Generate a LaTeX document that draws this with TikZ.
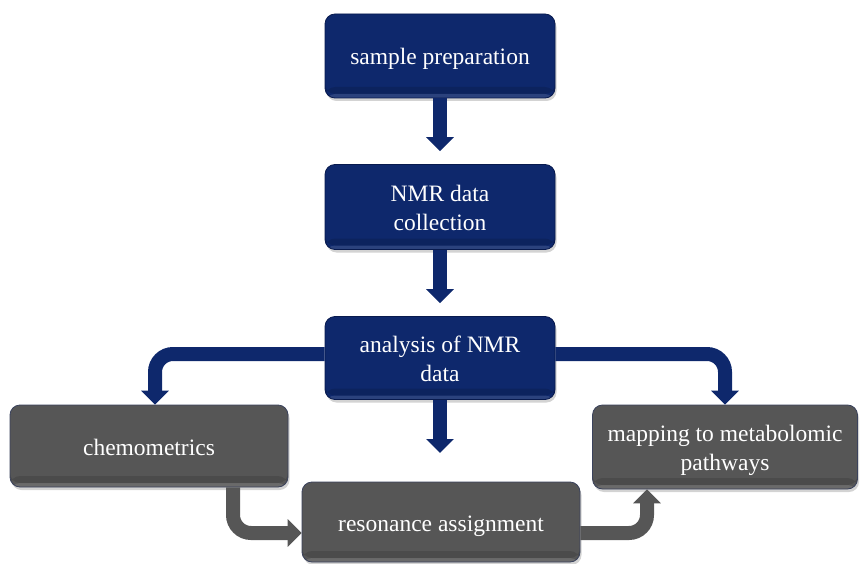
\documentclass[tikz,border=0pt]{standalone}
\usepackage{fontspec}
\setmainfont{Liberation Serif}
\usetikzlibrary{arrows.meta,shadows,calc}
\definecolor{navy}{RGB}{14,40,108}
\definecolor{navyedge}{RGB}{8,26,78}
\definecolor{slate}{RGB}{86,86,86}
\definecolor{slateedge}{RGB}{58,66,92}
\tikzset{
  box/.style={rounded corners=10pt, line width=0.8pt, text=white, align=center,
    font=\fontsize{23.5}{29}\selectfont,
    drop shadow={opacity=0.35, shadow xshift=1.5pt, shadow yshift=-3pt},
    % darker band and light rim along the lower edge
    path picture={
      \fill[black, opacity=0.12]
        ([yshift=4pt]path picture bounding box.south west) rectangle
        ([yshift=11pt]path picture bounding box.south east);
      \fill[white, opacity=0.12]
        (path picture bounding box.south west) rectangle
        ([yshift=4pt]path picture bounding box.south east);
    }},
  oneline/.style={text height=21pt, text depth=3pt},
  twoline/.style={text height=48pt, text depth=2pt},
  bluebox/.style={box, fill=navy, draw=navyedge},
  greybox/.style={box, fill=slate, draw=slateedge},
  bluearrow/.style={draw=navy, line width=14pt, rounded corners=18pt,
    -{Triangle[width=27pt,length=14pt]}},
  greyarrow/.style={draw=slate, line width=14pt, rounded corners=18pt,
    -{Triangle[width=27pt,length=14pt]}},
}
\begin{document}
\begin{tikzpicture}[x=1pt,y=-1pt]
\useasboundingbox (0,0) rectangle (861,564);

% process boxes
\node[bluebox, oneline, minimum width=230pt, minimum height=84pt] (prep) at (440,56) {sample preparation};
\node[bluebox, twoline, minimum width=230pt, minimum height=85pt] (nmr) at (440,207) {NMR data\\collection};
\node[bluebox, twoline, minimum width=230pt, minimum height=83pt] (anal) at (440,358) {analysis of NMR\\data};
\node[greybox, oneline, minimum width=278pt, minimum height=82pt] (chemo) at (149,446) {chemometrics};
\node[greybox, oneline, minimum width=278pt, minimum height=80pt] (reson) at (441,522) {resonance assignment};
\node[greybox, twoline, minimum width=265pt, minimum height=84pt] (mapp) at (725,447) {mapping to metabolomic\\pathways};

% free end of the short downward arrow
\coordinate (downtip) at (440,453);

% vertical arrows of the main chain
\draw[bluearrow, shorten >=13pt] (prep.south) -- (nmr.north);
\draw[bluearrow, shorten >=13pt] (nmr.south) -- (anal.north);
\draw[bluearrow] (anal.south) -- (downtip);

% branching elbow arrows
\draw[bluearrow] ([yshift=4pt]anal.west) -| ([xshift=6pt]chemo.north);
\draw[bluearrow] ([yshift=4pt]anal.east) -| (mapp.north);

% grey connections between the lower boxes
\draw[greyarrow] ([xshift=84pt]chemo.south) |- ([yshift=-11pt]reson.west);
\draw[greyarrow] ([yshift=-11pt]reson.east) -| ([xshift=-78pt]mapp.south);
\end{tikzpicture}
\end{document}
